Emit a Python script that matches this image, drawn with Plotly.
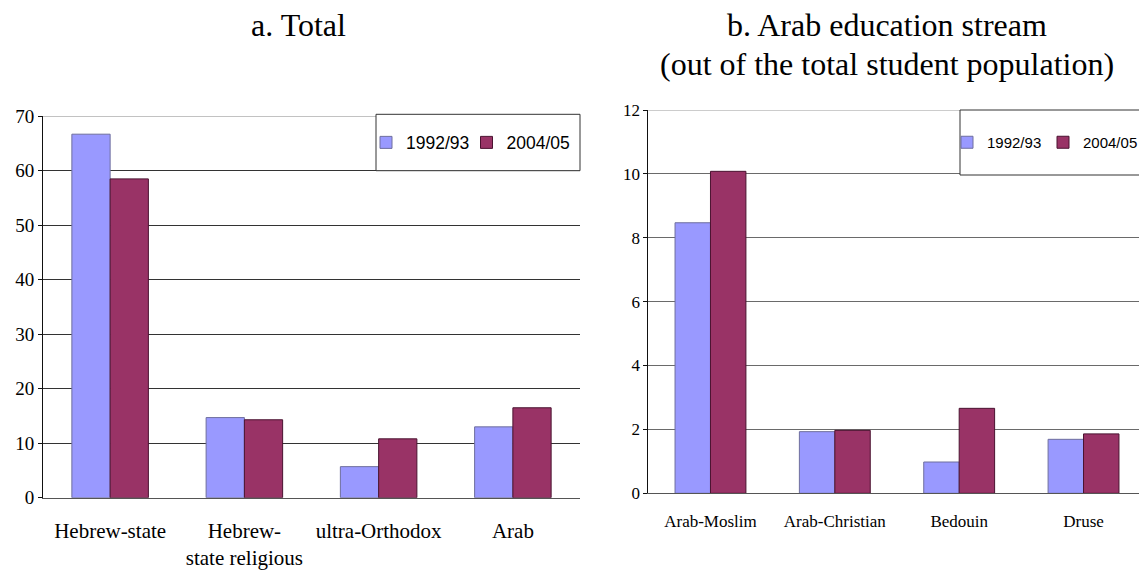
import plotly.graph_objects as go

# ---- data -------------------------------------------------------------
series_names = ["1992/93", "2004/05"]

total_categories = ["Hebrew-state", "Hebrew-state religious", "ultra-Orthodox", "Arab"]
total_ticktext = ["Hebrew-state", "Hebrew-<br>state religious", "ultra-Orthodox", "Arab"]
total_1992 = [66.7, 14.7, 5.7, 13.0]
total_2004 = [58.5, 14.3, 10.8, 16.5]

arab_categories = ["Arab-Moslim", "Arab-Christian", "Bedouin", "Druse"]
arab_1992 = [8.47, 1.93, 0.98, 1.69]
arab_2004 = [10.08, 1.97, 2.66, 1.86]

left_ticks = [0, 10, 20, 30, 40, 50, 60, 70]
right_ticks = [0, 2, 4, 6, 8, 10, 12]

# ---- style ------------------------------------------------------------
W, H = 1139, 579
BLUE, BLUE_EDGE = "#9999FF", "#6E6E9E"
RED, RED_EDGE = "#993366", "#4A1330"
SERIF = "Liberation Serif, Times New Roman, serif"
LEG_FONT = "Liberation Sans, Arial, sans-serif"


def px_x(p):
    return p / W


def px_y(p):
    return (H - p) / H


fig = go.Figure()

# panel a
fig.add_trace(go.Bar(x=total_categories, y=total_1992, name=series_names[0],
                     marker=dict(color=BLUE, line=dict(color=BLUE_EDGE, width=1)),
                     xaxis="x", yaxis="y", legend="legend", legendwidth=55.5))
fig.add_trace(go.Bar(x=total_categories, y=total_2004, name=series_names[1],
                     marker=dict(color=RED, line=dict(color=RED_EDGE, width=1)),
                     xaxis="x", yaxis="y", legend="legend", legendwidth=72))
# panel b
fig.add_trace(go.Bar(x=arab_categories, y=arab_1992, name=series_names[0],
                     marker=dict(color=BLUE, line=dict(color=BLUE_EDGE, width=1)),
                     xaxis="x2", yaxis="y2", legend="legend2", legendwidth=51))
fig.add_trace(go.Bar(x=arab_categories, y=arab_2004, name=series_names[1],
                     marker=dict(color=RED, line=dict(color=RED_EDGE, width=1)),
                     xaxis="x2", yaxis="y2", legend="legend2", legendwidth=62))

left_dom_x = [px_x(43), px_x(580)]
right_dom_x = [px_x(648.3), 1.0]
left_dom_y = [px_y(497.7), px_y(116.2)]
right_dom_y = [px_y(493.3), px_y(110)]

right_span = (W - 648.3) / ((1145.7 - 648.3) / 4)

axis_common = dict(showgrid=False, zeroline=False, ticks="", showline=True,
                   linecolor="#555555", linewidth=1, fixedrange=True, automargin=False)
yaxis_common = dict(showgrid=True, gridwidth=1, zeroline=False,
                    showline=True, linecolor="#111111", linewidth=1,
                    ticks="outside", ticklen=4, tickcolor="#111111",
                    fixedrange=True, automargin=False)

fig.update_layout(
    width=W, height=H,
    margin=dict(l=0, r=0, t=0, b=0, pad=0, autoexpand=False),
    paper_bgcolor="white", plot_bgcolor="white",
    barmode="group", bargap=0.43, bargroupgap=0,
    xaxis=dict(domain=left_dom_x, anchor="y", range=[-0.5, 3.5],
               tickmode="array", tickvals=total_categories, ticktext=total_ticktext,
               tickfont=dict(family=SERIF, size=21, color="black"),
               ticklabelstandoff=14, **axis_common),
    yaxis=dict(domain=left_dom_y, anchor="x", range=[0, 70], tickvals=left_ticks,
               gridcolor="#333333",
               tickfont=dict(family=SERIF, size=19, color="black"), **yaxis_common),
    xaxis2=dict(domain=right_dom_x, anchor="y2", range=[-0.5, -0.5 + right_span],
                tickfont=dict(family=SERIF, size=17, color="black"),
                ticklabelstandoff=12, **axis_common),
    yaxis2=dict(domain=right_dom_y, anchor="x2", range=[0, 12], tickvals=right_ticks,
                gridcolor="#6a6a6a",
                tickfont=dict(family=SERIF, size=17, color="black"), **yaxis_common),
    legend=dict(orientation="h", x=px_x(366), xanchor="left", y=px_y(142.5), yanchor="middle",
                bgcolor="rgba(0,0,0,0)", borderwidth=0,
                font=dict(family=LEG_FONT, size=17.5, color="black")),
    legend2=dict(orientation="h", x=px_x(947), xanchor="left", y=px_y(142.5), yanchor="middle",
                 bgcolor="rgba(0,0,0,0)", borderwidth=0,
                 font=dict(family=LEG_FONT, size=15, color="black")),
    showlegend=True,
)

# legend frames
fig.add_shape(type="rect", xref="paper", yref="paper",
              x0=px_x(376), x1=px_x(580), y0=px_y(170.7), y1=px_y(114.3),
              line=dict(color="#333333", width=1), fillcolor="white", layer="above")
fig.add_shape(type="rect", xref="paper", yref="paper",
              x0=px_x(960), x1=px_x(1150), y0=px_y(175), y1=px_y(110),
              line=dict(color="#333333", width=1), fillcolor="white", layer="above")

# lighter top border lines of the plot areas
fig.add_shape(type="line", xref="x domain", yref="y", x0=0, x1=1, y0=70, y1=70,
              line=dict(color="#8a8a8a", width=1), layer="below")
fig.add_shape(type="line", xref="x2 domain", yref="y2", x0=0, x1=1, y0=12, y1=12,
              line=dict(color="#9a9a9a", width=1), layer="below")

# panel titles
fig.add_annotation(text="a. Total", xref="paper", yref="paper",
                   x=px_x(298.5), y=px_y(25), xanchor="center", yanchor="middle",
                   showarrow=False, font=dict(family=SERIF, size=32, color="black"))
fig.add_annotation(text="b. Arab education stream", xref="paper", yref="paper",
                   x=px_x(886.5), y=px_y(25), xanchor="center", yanchor="middle",
                   showarrow=False, font=dict(family=SERIF, size=32, color="black"))
fig.add_annotation(text="(out of the total student population)", xref="paper", yref="paper",
                   x=px_x(886.5), y=px_y(64), xanchor="center", yanchor="middle",
                   showarrow=False, font=dict(family=SERIF, size=32, color="black"))

fig.write_html("out.html", config={"displayModeBar": False})
